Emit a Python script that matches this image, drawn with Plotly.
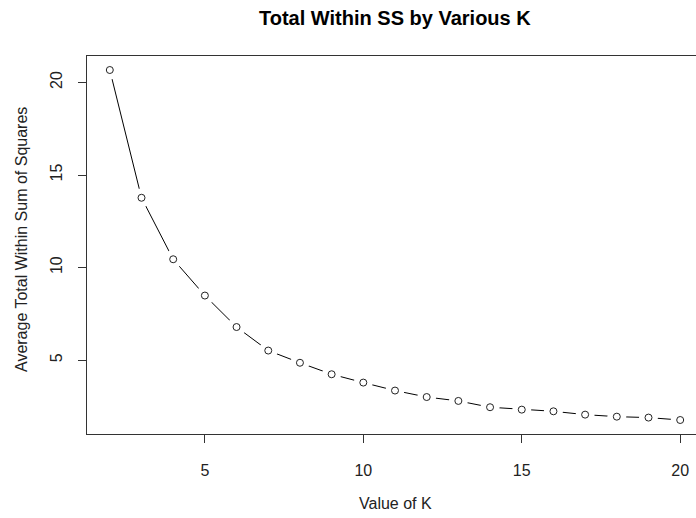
import plotly.graph_objects as go

# Number of clusters and the averaged total within-cluster sum of squares
k_values = list(range(2, 21))
avg_within_ss = [20.67, 13.77, 10.45, 8.49, 6.79, 5.52, 4.86, 4.24, 3.79, 3.36,
                 3.01, 2.80, 2.46, 2.33, 2.24, 2.06, 1.95, 1.90, 1.77]

x_ticks = [5, 10, 15, 20]
y_ticks = [5, 10, 15, 20]

title_text = "Total Within SS by Various K"
x_label = "Value of K"
y_label = "Average Total Within Sum of Squares"

FONT = "Liberation Sans, Arial, sans-serif"
W, H = 696, 518
L, T, B = 87, 56, 84
PW, PH = W - L, H - T - B

# base-graphics style 4% padding around the data range
def padded(lo, hi):
    d = (hi - lo) * 0.04
    return lo - d, hi + d

x_lo, x_hi = padded(min(k_values), max(k_values))
y_lo, y_hi = padded(min(avg_within_ss), max(avg_within_ss))
# the panel runs past the right edge of the page; keep the same scale
full_px = 616
x_hi_visible = x_lo + (x_hi - x_lo) * PW / full_px
# horizontal centre of the full (uncropped) panel, in paper units
centre_paper = (full_px / 2) / PW

fig = go.Figure()
# connecting line
fig.add_trace(go.Scatter(x=k_values, y=avg_within_ss, mode="lines",
                         line=dict(color="black", width=1), hoverinfo="skip"))
# white halo so the line stops short of each point
fig.add_trace(go.Scatter(x=k_values, y=avg_within_ss, mode="markers",
                         marker=dict(symbol="circle", size=19, color="white",
                                     line=dict(width=0)), hoverinfo="skip"))
# open circle points
fig.add_trace(go.Scatter(x=k_values, y=avg_within_ss, mode="markers",
                         marker=dict(symbol="circle", size=7, color="white",
                                     line=dict(width=1, color="#222222"))))

fig.update_layout(
    width=W, height=H,
    margin=dict(l=L, r=0, t=T, b=B, pad=0),
    plot_bgcolor="white", paper_bgcolor="white",
    showlegend=False,
    font=dict(family=FONT, size=16, color="#222222"),
    annotations=[
        dict(text=title_text, xref="paper", yref="paper", x=centre_paper,
             y=1 + (T - 18) / PH, xanchor="center", yanchor="middle",
             showarrow=False,
             font=dict(family=FONT, size=20, color="black", weight="bold")),
        dict(text=x_label, xref="paper", yref="paper", x=centre_paper,
             y=-(503 - (H - B)) / PH, xanchor="center", yanchor="middle",
             showarrow=False, font=dict(family=FONT, size=16, color="#222222")),
        dict(text=y_label, xref="paper", yref="paper", x=-(L - 21) / PW,
             y=(H - B - 240) / PH, xanchor="center", yanchor="middle",
             textangle=-90, showarrow=False,
             font=dict(family=FONT, size=16, color="#222222")),
    ],
)
fig.update_xaxes(
    range=[x_lo, x_hi_visible], tickvals=x_ticks, ticktext=[str(v) for v in x_ticks],
    showgrid=False, zeroline=False, showline=True, linecolor="#333333", linewidth=1,
    mirror=True, ticks="outside", ticklen=8, tickcolor="#333333",
    ticklabelstandoff=14,
)
fig.update_yaxes(
    range=[y_lo, y_hi], tickvals=y_ticks, ticktext=[str(v) for v in y_ticks],
    tickangle=-90,
    showgrid=False, zeroline=False, showline=True, linecolor="#333333", linewidth=1,
    ticks="outside", ticklen=8, tickcolor="#333333",
    ticklabelstandoff=10,
)

fig.write_html("out.html")
